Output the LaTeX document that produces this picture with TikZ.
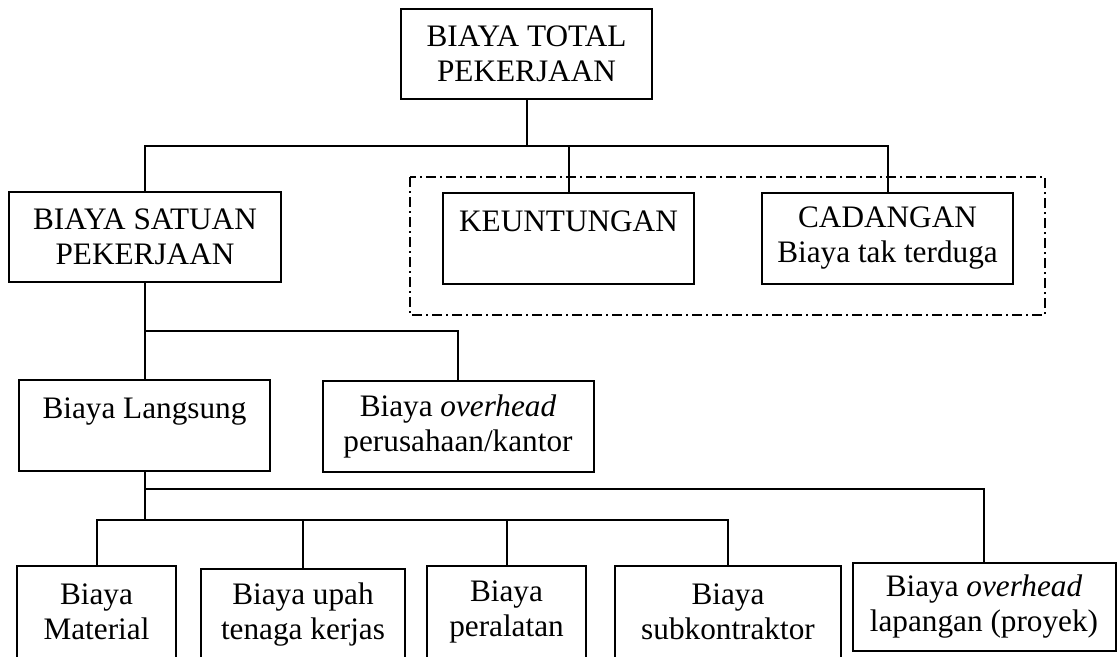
\documentclass[tikz,border=0pt]{standalone}
\usepackage{fontspec}
\setmainfont{Liberation Serif}
\usepackage{tikz}
\usetikzlibrary{positioning,calc}
\newcommand{\pxu}{0.4pt}
\tikzset{
  blk/.style={draw,line width=0.8pt,inner sep=0pt,align=center,
              font=\fontsize{12.5}{14}\selectfont,minimum height=91*\pxu},
  wd/.style={minimum width=#1*\pxu},
  ln/.style={line width=0.8pt},
  grp/.style={line width=0.8pt,dash pattern=on 4pt off 1.6pt on 0.8pt off 1.6pt},
}

\begin{document}
\begin{tikzpicture}[x=0.4pt,y=-0.4pt]
  \useasboundingbox (0,0) rectangle (1117,656);

  %% ── Nodes (level by level, top-to-bottom) ───────────────────────────────
  \node[blk,wd=251,minimum height=90*\pxu] (total)    at (526.5,54)   {BIAYA TOTAL\\PEKERJAAN};
  \node[blk,wd=272,minimum height=90*\pxu] (satuan)   at (145,237)    {BIAYA SATUAN\\PEKERJAAN};
  \node[blk,wd=251]                        (untung)   at (568.5,238.5){KEUNTUNGAN\\\mbox{}};
  \node[blk,wd=251]                        (cadangan) at (887.5,238.5){CADANGAN\\Biaya tak terduga};
  \node[blk,wd=251]                        (langsung) at (144.5,425.5){Biaya Langsung\\\mbox{}};
  \node[blk,wd=271]                        (ohkantor) at (458,426.5)  {Biaya \textit{overhead}\\perusahaan/kantor};
  \node[blk,wd=159,minimum height=92*\pxu] (material) at (96.5,612)   {Biaya\\Material};
  \node[blk,wd=204,minimum height=92*\pxu] (upah)     at (303,615)    {Biaya upah\\tenaga kerjas};
  \node[blk,wd=159,minimum height=92*\pxu] (alat)     at (506.5,612)  {Biaya\\peralatan};
  \node[blk,wd=226,minimum height=92*\pxu] (subkon)   at (728,612)    {Biaya\\subkontraktor};
  \node[blk,wd=263,minimum height=88*\pxu] (ohlap)    at (984,607)    {Biaya \textit{overhead}\\lapangan (proyek)};

  %% ── Bus lines ───────────────────────────────────────────────────────────
  \coordinate (busA) at (0,146);
  \coordinate (busB) at (0,331);
  \coordinate (busC) at (0,489);
  \coordinate (busD) at (0,520);

  %% ── Connectors ──────────────────────────────────────────────────────────
  \draw[ln] (total.south) -- (total.south |- busA);
  \draw[ln] (satuan.north) -- (satuan.north |- busA) -- (cadangan.north |- busA) -- (cadangan.north);
  \draw[ln] (untung.north |- busA) -- (untung.north);
  \draw[ln] (satuan.south) -- (satuan.south |- langsung.north);
  \draw[ln] (satuan.south |- busB) -- (ohkantor.north |- busB) -- (ohkantor.north);
  \draw[ln] (langsung.south) -- (langsung.south |- busD);
  \draw[ln] (langsung.south |- busC) -- (ohlap.north |- busC) -- (ohlap.north);
  \draw[ln] (material.north) -- (material.north |- busD) -- (subkon.north |- busD) -- (subkon.north);
  \foreach \n in {upah,alat}{
    \draw[ln] (\n.north |- busD) -- (\n.north);
  }

  %% ── Dash-dot group box ──────────────────────────────────────────────────
  \draw[grp] ($(untung.north west)+(-32,-15)$) rectangle ($(cadangan.south east)+(31,30)$);
\end{tikzpicture}
\end{document}
